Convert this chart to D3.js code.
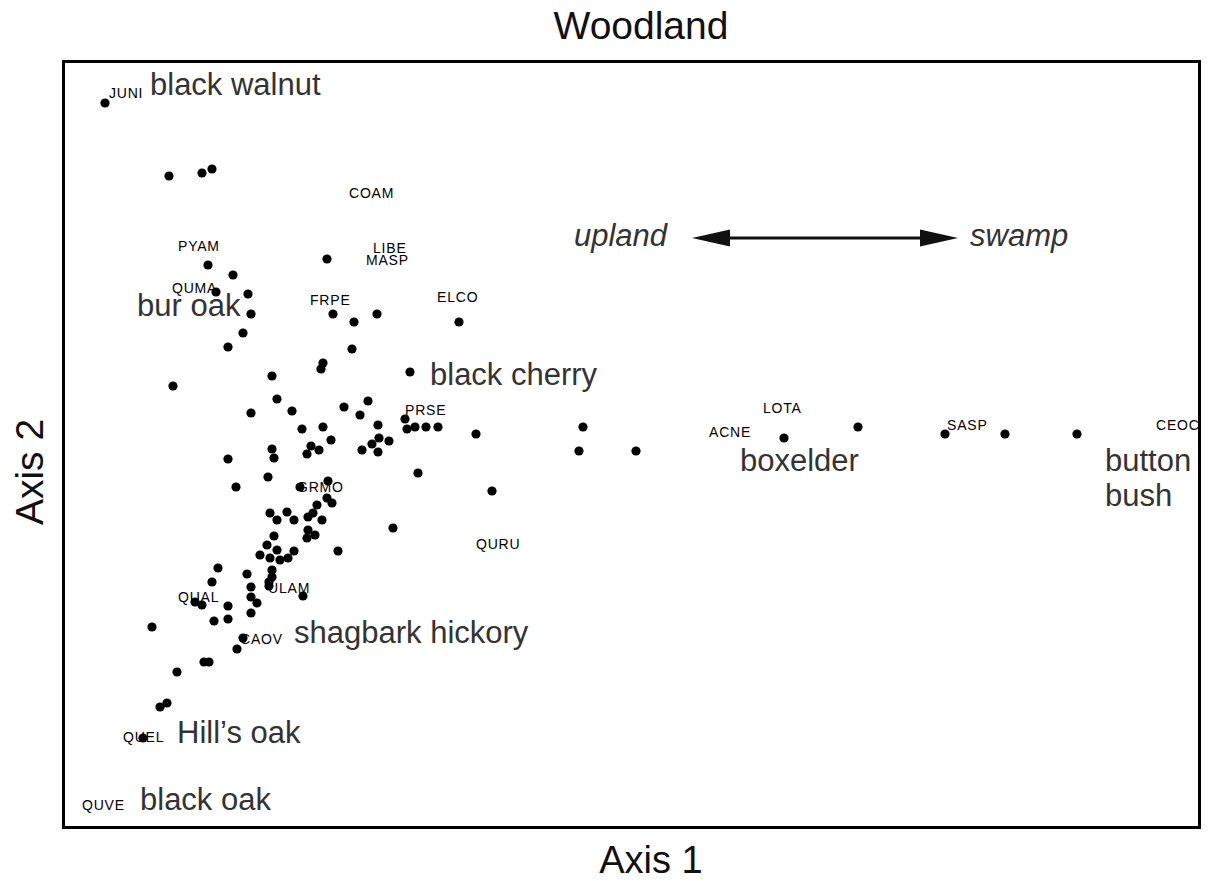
<!DOCTYPE html>
<html>
<head>
<meta charset="utf-8">
<script src="https://cdn.jsdelivr.net/npm/d3@7"></script>
<style>
  html, body { margin: 0; padding: 0; background: #fff; }
  svg { display: block; font-family: Arial, "Liberation Sans", Helvetica, sans-serif; }
</style>
</head>
<body>
<svg id="chart" width="1221" height="881"></svg>
<script>
// ---- Data (ordination scores, arbitrary units) ----
const title = "Woodland";
const axis1Label = "Axis 1";
const axis2Label = "Axis 2";
const axis1Domain = [0, 11.36];
const axis2Domain = [0, 7.66];

// every plotted point: [axis1, axis2]
const pointScores = [
  [0.41,7.25],[1.05,6.52],[1.38,6.55],[1.48,6.59],[2.63,5.69],[1.44,5.63],[1.69,5.53],
  [1.52,5.36],[1.84,5.34],[1.87,5.14],[1.79,4.95],[1.64,4.81],[2.69,5.14],[2.90,5.06],
  [3.13,5.14],[3.95,5.06],[2.88,4.79],[1.09,4.42],[2.08,4.52],[2.59,4.65],[2.57,4.59],
  [3.46,4.56],[2.13,4.29],[1.87,4.15],[2.28,4.17],[2.80,4.21],[3.04,4.27],[2.96,4.13],
  [2.38,3.99],[2.59,4.01],[3.14,4.03],[3.41,4.09],[3.43,3.99],[3.51,4.01],[3.62,4.01],
  [3.74,4.01],[3.25,3.87],[4.12,3.94],[2.67,3.88],[2.08,3.79],[2.10,3.70],[2.47,3.82],
  [2.43,3.74],[2.55,3.78],[2.98,3.78],[3.08,3.84],[3.15,3.90],[3.14,3.76],[1.64,3.69],
  [3.54,3.55],[2.04,3.51],[1.72,3.41],[2.36,3.41],[2.64,3.47],[5.19,4.01],[5.15,3.77],
  [5.72,3.77],[4.28,3.37],[3.29,3.00],[7.20,3.90],[7.94,4.01],[8.81,3.94],[9.41,3.94],
  [10.13,3.94],[2.53,3.23],[2.63,3.30],[2.68,3.25],[2.44,3.11],[2.49,3.15],[2.58,3.08],
  [2.06,3.15],[2.13,3.08],[2.23,3.16],[2.30,3.08],[2.44,2.98],[2.43,2.90],[2.51,2.93],
  [2.10,2.92],[2.74,2.77],[2.03,2.83],[1.96,2.73],[2.13,2.78],[2.30,2.77],[2.24,2.70],
  [2.06,2.70],[2.16,2.68],[2.08,2.58],[2.08,2.51],[1.54,2.60],[1.48,2.46],[1.83,2.54],
  [2.05,2.46],[2.05,2.42],[1.87,2.41],[2.39,2.32],[1.87,2.31],[1.93,2.25],[1.31,2.26],
  [1.38,2.23],[1.64,2.22],[1.87,2.15],[1.50,2.07],[1.64,2.09],[0.88,2.01],[1.79,1.90],
  [1.73,1.79],[1.40,1.66],[1.45,1.66],[1.13,1.56],[0.96,1.21],[1.03,1.25],[0.79,0.90]
];

// species codes: [code, axis1, axis2] (label anchor)
const speciesCodes = [
  ["JUNI",0.45,7.30],["COAM",2.85,6.30],["PYAM",1.14,5.77],["LIBE",3.09,5.75],
  ["MASP",3.02,5.63],["QUMA",1.08,5.35],["FRPE",2.46,5.23],["ELCO",3.73,5.26],
  ["PRSE",3.41,4.13],["GRMO",2.33,3.36],["ULAM",2.04,2.35],["QUAL",1.14,2.26],
  ["CAOV",1.76,1.84],["QUEL",0.59,0.86],["QUVE",0.18,0.18],["QURU",4.12,2.79],
  ["LOTA",6.99,4.15],["ACNE",6.45,3.91],["SASP",8.83,3.98],["CEOC",10.92,3.98]
];

// common names: [name, axis1, axis2]
const commonNames = [
  ["black walnut",0.86,7.33],["bur oak",0.73,5.12],["black cherry",3.66,4.43],
  ["shagbark hickory",2.30,1.85],["boxelder",6.76,3.57],["button",10.41,3.57],
  ["bush",10.41,3.22],["Hill\u2019s oak",1.13,0.85],["black oak",0.76,0.18]
];

// moisture gradient arrow
const gradientArrow = { from: [6.28, 5.90], to: [8.94, 5.90] };
const gradientLabels = [["upland",6.03,5.82,"end"],["swamp",9.06,5.82,"start"]];

// ---- Drawing ----
const svg = d3.select("#chart");
const x = d3.scaleLinear().domain(axis1Domain).range([64, 1200]);
const y = d3.scaleLinear().domain(axis2Domain).range([828, 62]);

// title and axis labels
svg.append("text").attr("x", 641).attr("y", 39).attr("text-anchor", "middle")
  .attr("font-size", 39).attr("fill", "#111").text(title);
svg.append("text").attr("x", 651).attr("y", 873).attr("text-anchor", "middle")
  .attr("font-size", 38).attr("fill", "#111").text(axis1Label);
svg.append("text").attr("transform", "translate(43,472) rotate(-90)")
  .attr("text-anchor", "middle").attr("font-size", 39).attr("fill", "#111").text(axis2Label);

// species code labels (under points)
svg.append("g").selectAll("text").data(speciesCodes).join("text")
  .attr("x", d => x(d[1])).attr("y", d => y(d[2]))
  .attr("font-size", 14).attr("letter-spacing", 0.8).attr("fill", "#000")
  .text(d => d[0]);

// common names
svg.append("g").selectAll("text").data(commonNames).join("text")
  .attr("x", d => x(d[1])).attr("y", d => y(d[2]))
  .attr("font-size", 31).attr("fill", "#333")
  .text(d => d[0]);

// gradient labels
svg.append("g").selectAll("text").data(gradientLabels).join("text")
  .attr("x", d => x(d[1])).attr("y", d => y(d[2]))
  .attr("text-anchor", d => d[3])
  .attr("font-size", 31).attr("font-style", "italic").attr("fill", "#333")
  .text(d => d[0]);

// arrow
const ax1 = x(gradientArrow.from[0]), ax2 = x(gradientArrow.to[0]), ay = y(gradientArrow.from[1]);
const headLen = 38, headHalf = 8.5;
svg.append("line").attr("x1", ax1 + headLen - 2).attr("x2", ax2 - headLen + 2)
  .attr("y1", ay).attr("y2", ay).attr("stroke", "#111").attr("stroke-width", 3);
svg.append("path")
  .attr("d", `M${ax1},${ay} L${ax1 + headLen},${ay - headHalf} L${ax1 + headLen},${ay + headHalf} Z`)
  .attr("fill", "#111");
svg.append("path")
  .attr("d", `M${ax2},${ay} L${ax2 - headLen},${ay - headHalf} L${ax2 - headLen},${ay + headHalf} Z`)
  .attr("fill", "#111");

// points
svg.append("g").selectAll("circle").data(pointScores).join("circle")
  .attr("cx", d => x(d[0])).attr("cy", d => y(d[1])).attr("r", 4.6).attr("fill", "#000");

// frame
svg.append("rect").attr("x", x(axis1Domain[0]) - 0.5).attr("y", y(axis2Domain[1]) - 0.5)
  .attr("width", x(axis1Domain[1]) - x(axis1Domain[0]))
  .attr("height", y(axis2Domain[0]) - y(axis2Domain[1]))
  .attr("fill", "none").attr("stroke", "#000").attr("stroke-width", 3);
</script>
</body>
</html>
